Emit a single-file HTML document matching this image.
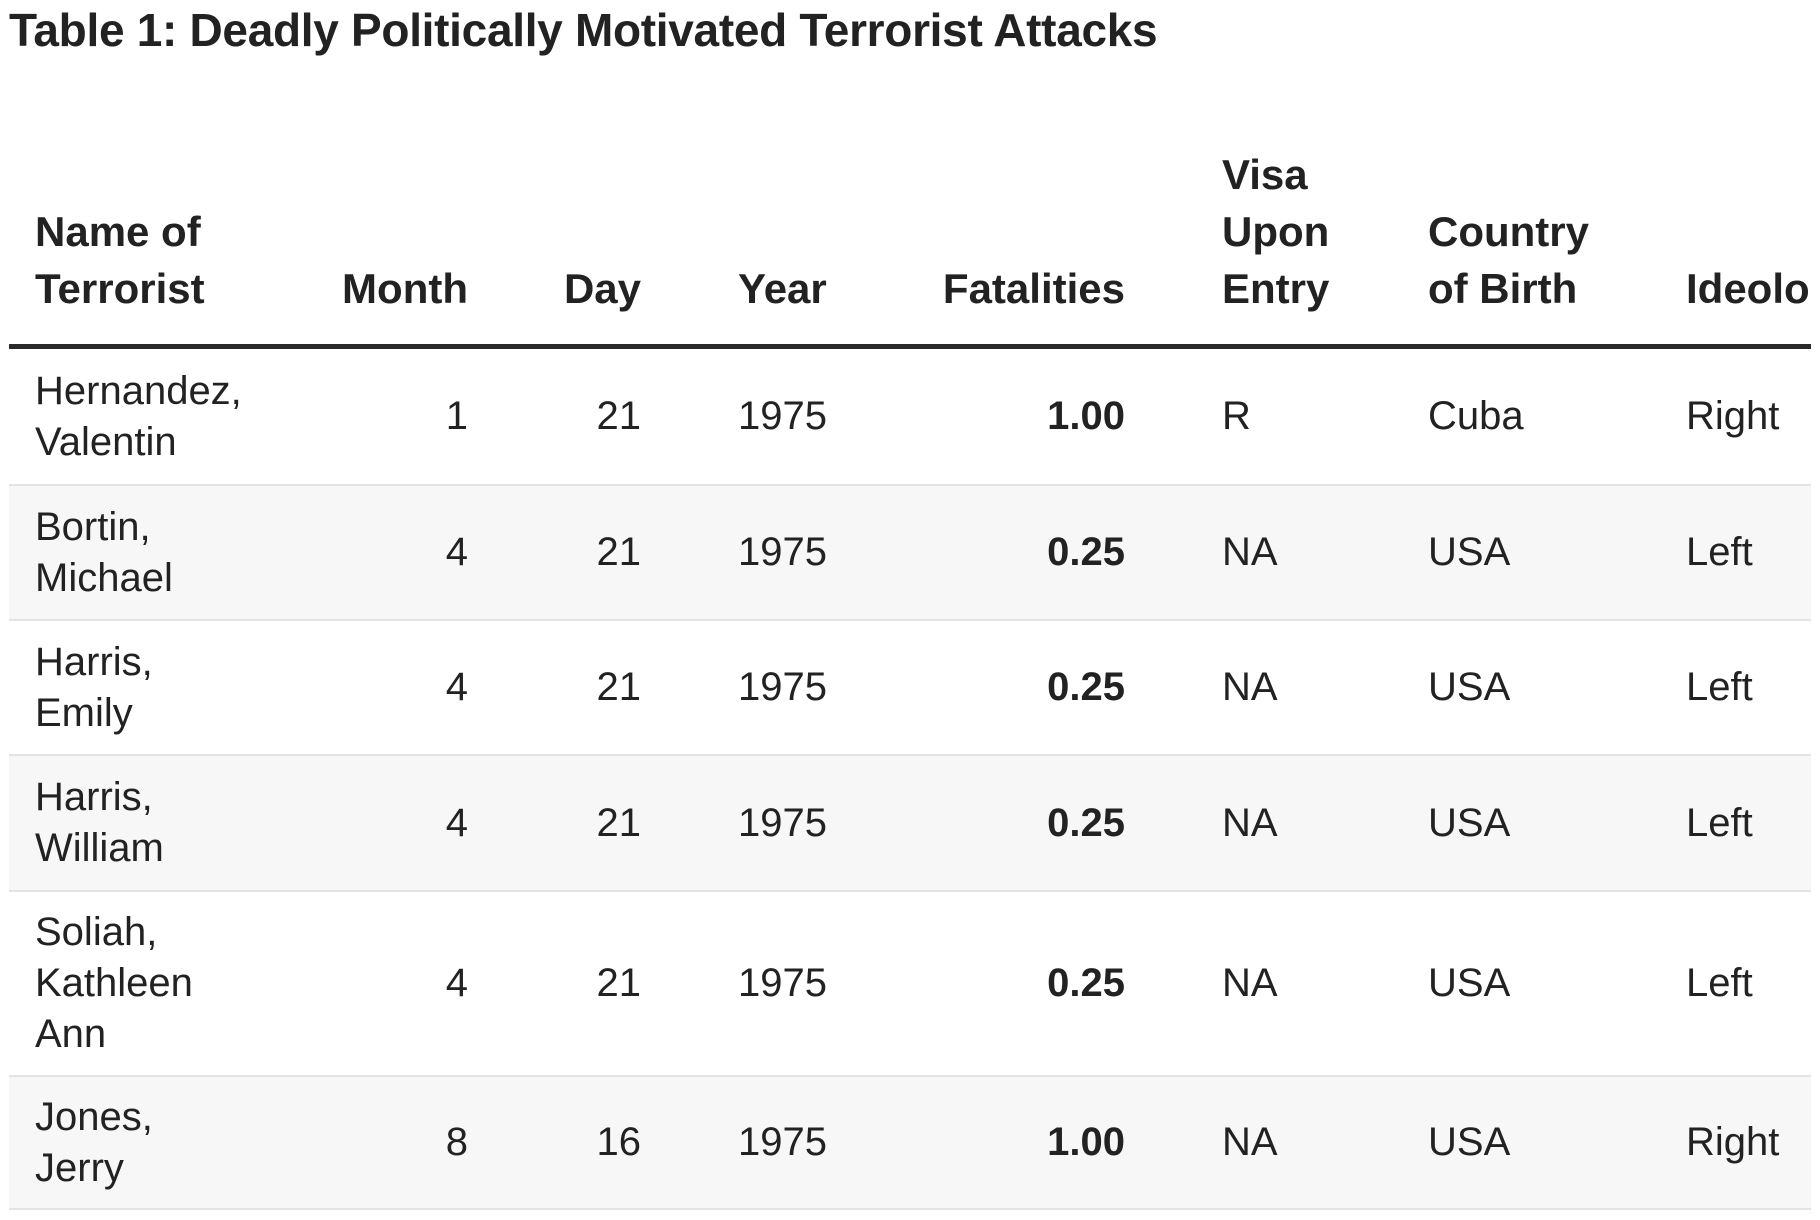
<!DOCTYPE html>
<html><head><meta charset="utf-8"><style>
html,body{margin:0;padding:0;background:#fff;width:1820px;height:1220px;overflow:hidden}
body{font-family:"Liberation Sans",sans-serif;color:#222;position:relative}
.title{position:absolute;left:9px;top:2px;font-size:46px;font-weight:bold;line-height:56px;white-space:nowrap;letter-spacing:-0.3px}
.wrap{position:absolute;left:9px;top:0;width:1802px;height:1220px;overflow:hidden}
.h{position:absolute;bottom:903px;font-size:42px;font-weight:bold;line-height:57px;white-space:nowrap}
.rule{position:absolute;left:0;width:1802px;top:344px;height:5px;background:#2a2a2a}
.row{position:absolute;left:0;width:1802px;border-bottom:2px solid #e3e3e3;box-sizing:border-box}
.g{background:#f7f7f7}
.c{position:absolute;top:0;bottom:0;display:flex;align-items:center;font-size:40px;line-height:51px;white-space:nowrap}
.r{justify-content:flex-end}
.b{font-weight:bold}
</style></head><body>
<div class="title">Table 1: Deadly Politically Motivated Terrorist Attacks</div>
<div class="wrap">
<div class="h" style="left:26px">Name of<br>Terrorist</div>
<div class="h" style="right:1343px">Month</div>
<div class="h" style="right:1170px">Day</div>
<div class="h" style="left:729px">Year</div>
<div class="h" style="right:686px">Fatalities</div>
<div class="h" style="left:1213px">Visa<br>Upon<br>Entry</div>
<div class="h" style="left:1419px">Country<br>of Birth</div>
<div class="h" style="left:1677px">Ideology</div>
<div class="rule"></div>

<div class="row" style="top:349px;height:137px">
<div class="c" style="left:26px">Hernandez,<br>Valentin</div>
<div class="c r" style="right:1343px">1</div><div class="c r" style="right:1170px">21</div>
<div class="c" style="left:729px">1975</div><div class="c r b" style="right:686px">1.00</div>
<div class="c" style="left:1213px">R</div><div class="c" style="left:1419px">Cuba</div><div class="c" style="left:1677px">Right</div>
</div>
<div class="row g" style="top:486px;height:135px">
<div class="c" style="left:26px">Bortin,<br>Michael</div>
<div class="c r" style="right:1343px">4</div><div class="c r" style="right:1170px">21</div>
<div class="c" style="left:729px">1975</div><div class="c r b" style="right:686px">0.25</div>
<div class="c" style="left:1213px">NA</div><div class="c" style="left:1419px">USA</div><div class="c" style="left:1677px">Left</div>
</div>
<div class="row" style="top:621px;height:135px">
<div class="c" style="left:26px">Harris,<br>Emily</div>
<div class="c r" style="right:1343px">4</div><div class="c r" style="right:1170px">21</div>
<div class="c" style="left:729px">1975</div><div class="c r b" style="right:686px">0.25</div>
<div class="c" style="left:1213px">NA</div><div class="c" style="left:1419px">USA</div><div class="c" style="left:1677px">Left</div>
</div>
<div class="row g" style="top:756px;height:136px">
<div class="c" style="left:26px">Harris,<br>William</div>
<div class="c r" style="right:1343px">4</div><div class="c r" style="right:1170px">21</div>
<div class="c" style="left:729px">1975</div><div class="c r b" style="right:686px">0.25</div>
<div class="c" style="left:1213px">NA</div><div class="c" style="left:1419px">USA</div><div class="c" style="left:1677px">Left</div>
</div>
<div class="row" style="top:892px;height:185px">
<div class="c" style="left:26px">Soliah,<br>Kathleen<br>Ann</div>
<div class="c r" style="right:1343px">4</div><div class="c r" style="right:1170px">21</div>
<div class="c" style="left:729px">1975</div><div class="c r b" style="right:686px">0.25</div>
<div class="c" style="left:1213px">NA</div><div class="c" style="left:1419px">USA</div><div class="c" style="left:1677px">Left</div>
</div>
<div class="row g" style="top:1077px;height:133px">
<div class="c" style="left:26px">Jones,<br>Jerry</div>
<div class="c r" style="right:1343px">8</div><div class="c r" style="right:1170px">16</div>
<div class="c" style="left:729px">1975</div><div class="c r b" style="right:686px">1.00</div>
<div class="c" style="left:1213px">NA</div><div class="c" style="left:1419px">USA</div><div class="c" style="left:1677px">Right</div>
</div>
</div>
</body></html>
